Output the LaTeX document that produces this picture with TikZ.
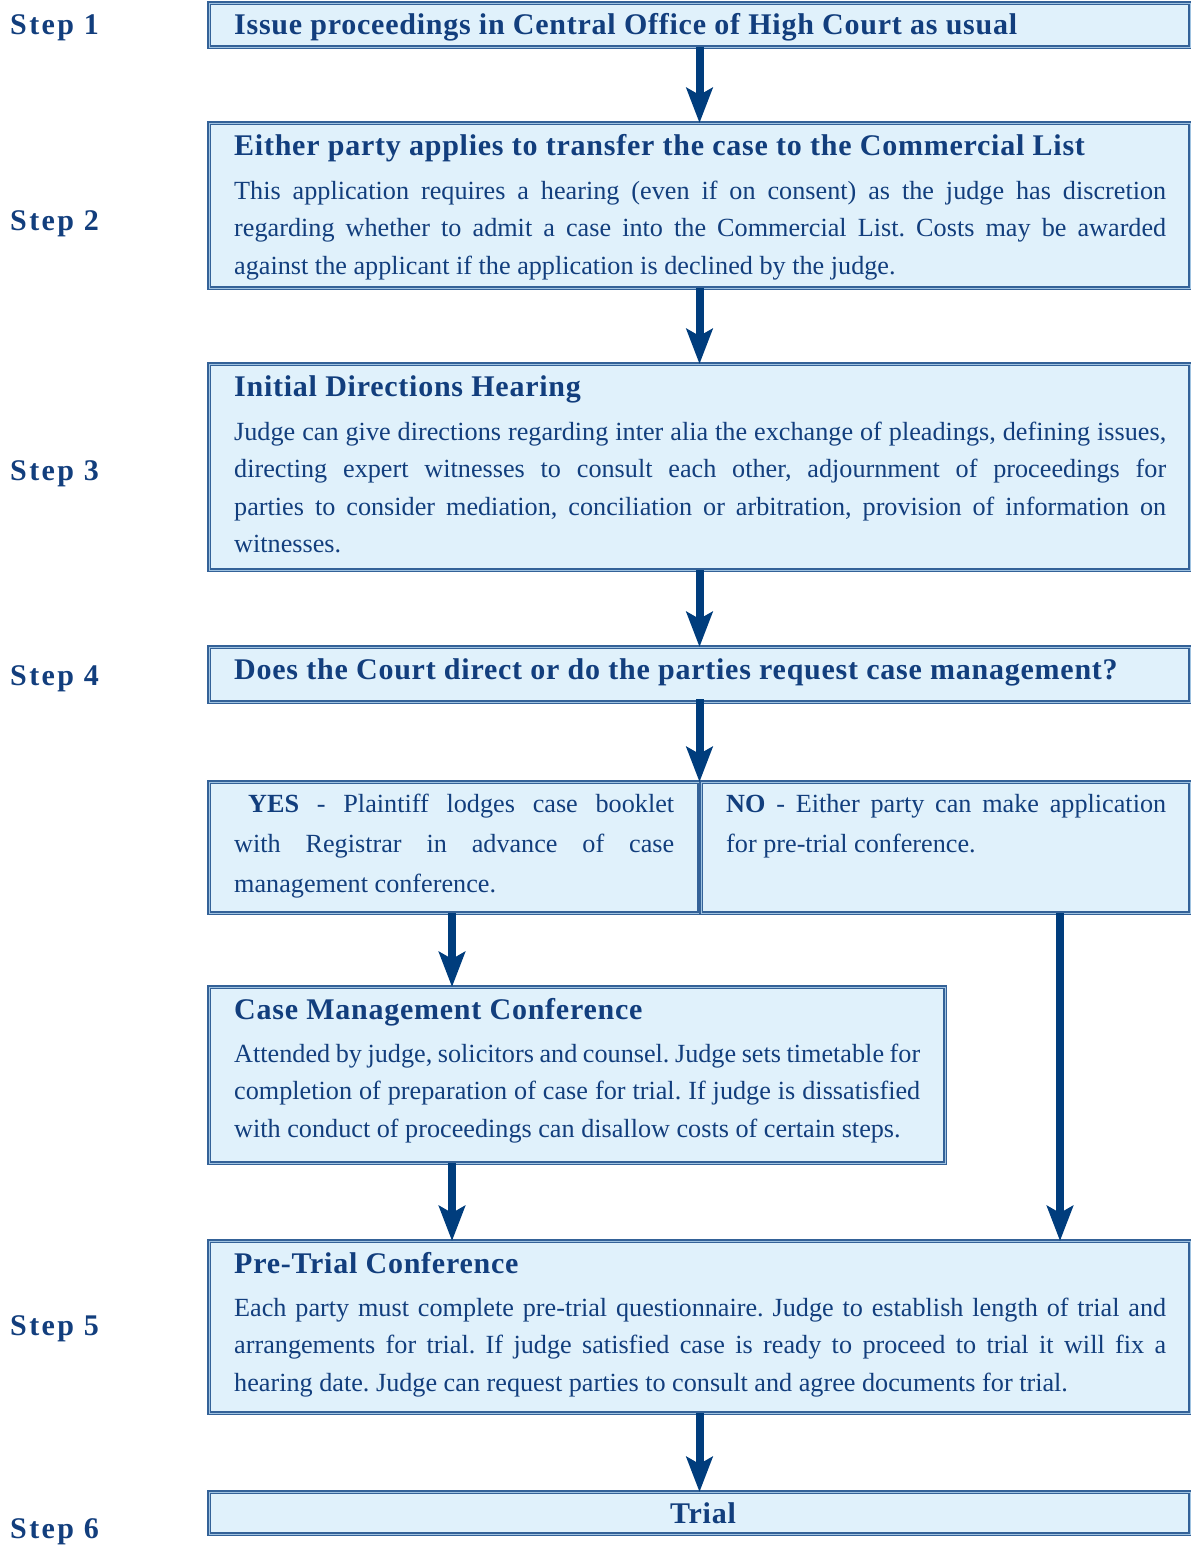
\documentclass[tikz,border=0pt]{standalone}
\usepackage{fontspec}
\setmainfont{Liberation Serif}
\usetikzlibrary{arrows.meta}
\definecolor{tb}{RGB}{18,62,125}
\definecolor{ab}{RGB}{0,61,125}
\definecolor{fb}{RGB}{224,241,251}
\definecolor{bb}{RGB}{52,98,152}
\definecolor{bl}{RGB}{160,195,225}
\frenchspacing
\begin{document}
\frenchspacing
\begin{tikzpicture}[x=1pt,y=-1pt,
  box/.style={draw=bb, double=bl, double distance=1pt, line width=1.2pt, fill=fb, inner sep=0pt, outer sep=0pt, anchor=north west},
  heading/.style={font=\fontsize{30}{34}\selectfont\bfseries\addfontfeature{LetterSpace=2.5}, text=tb, inner sep=0pt, anchor=base west},
  steplabel/.style={font=\fontsize{30}{34}\selectfont\bfseries\addfontfeature{LetterSpace=8}, text=tb, inner sep=0pt, anchor=base west},
  body/.style={font=\fontsize{26.2}{37.5}\selectfont\frenchspacing, text=tb, inner sep=0pt, anchor=north west, align=justify},
  flow/.style={draw=ab, line width=8pt, -{Stealth[length=35pt 0 0, width=26pt 0 0, inset=7pt 0 0]}}]
\useasboundingbox (0,0) rectangle (1191,1548);
% step labels
\node[steplabel] (s1) at (10,34) {Step 1};
\node[steplabel] (s2) at (10,230) {Step 2};
\node[steplabel] (s3) at (10,480) {Step 3};
\node[steplabel] (s4) at (10,685) {Step 4};
\node[steplabel] (s5) at (10,1335) {Step 5};
\node[steplabel] (s6) at (10,1538) {Step 6};
% boxes
\node[box, minimum width=981pt, minimum height=44pt] (b1) at (209,3) {};
\node[box, minimum width=981pt, minimum height=165pt] (b2) at (209,123) {};
\node[box, minimum width=981pt, minimum height=206pt] (b3) at (209,364) {};
\node[box, minimum width=981pt, minimum height=55pt] (b4) at (209,647) {};
\node[box, minimum width=490pt, minimum height=131pt] (yes) at (209,782) {};
\node[box, minimum width=489pt, minimum height=131pt] (no) at (701,782) {};
\node[box, minimum width=736pt, minimum height=176pt] (cmc) at (209,987) {};
\node[box, minimum width=981pt, minimum height=172pt] (pt) at (209,1241) {};
\node[box, minimum width=981pt, minimum height=42pt] (tr) at (209,1492) {};
% texts
\node[heading] (t1) at (234,34) {Issue proceedings in Central Office of High Court as usual};
\node[heading] (t2) at (234,155) {Either party applies to transfer the case to the Commercial List};
\node[body, text width=932pt] (p2) at (234,173) {\strut This application requires a hearing (even if on consent) as the judge has discretion\linebreak regarding whether to admit a case into the Commercial List. Costs may be awarded\linebreak against the applicant if the application is declined by the judge.};
\node[heading] (t3) at (234,396) {Initial Directions Hearing};
\node[body, text width=932pt] (p3) at (234,414) {\strut Judge can give directions regarding inter alia the exchange of pleadings, defining issues,\linebreak directing expert witnesses to consult each other, adjournment of proceedings for\linebreak parties to consider mediation, conciliation or arbitration, provision of information on\linebreak witnesses.};
\node[heading] (t4) at (234,679) {Does the Court direct or do the parties request case management?};
\node[body, text width=440pt, font=\fontsize{26.2}{40}\selectfont] (py) at (234,784) {\strut\hspace*{14pt}\textbf{YES} - Plaintiff lodges case booklet\linebreak with Registrar in advance of case\linebreak management conference.};
\node[body, text width=440pt, font=\fontsize{26.2}{40}\selectfont] (pn) at (726,784) {\strut\textbf{NO} - Either party can make application\linebreak for pre-trial conference.};
\node[heading] (tc) at (234,1019) {Case Management Conference};
\node[body, text width=686pt] (pc) at (234,1036) {\strut Attended by judge, solicitors and counsel. Judge sets timetable for\linebreak completion of preparation of case for trial. If judge is dissatisfied\linebreak with conduct of proceedings can disallow costs of certain steps.};
\node[heading] (tp) at (234,1273) {Pre-Trial Conference};
\node[body, text width=932pt] (pp) at (234,1290) {\strut Each party must complete pre-trial questionnaire. Judge to establish length of trial and\linebreak arrangements for trial. If judge satisfied case is ready to proceed to trial it will fix a\linebreak hearing date. Judge can request parties to consult and agree documents for trial.};
\node[heading, anchor=base] (tt) at (703,1523) {Trial};
% arrows
\coordinate (xl) at (452,0);
\coordinate (xr) at (1060,0);
\draw[flow] (b1.south) -- (b2.north);
\draw[flow] (b2.south) -- (b3.north);
\draw[flow] (b3.south) -- (b4.north);
\draw[flow] ([yshift=3pt]b4.south) -- (b4.south |- yes.north);
\draw[flow] (yes.south -| xl) -- (xl |- cmc.north);
\draw[flow] (cmc.south -| xl) -- (xl |- pt.north);
\draw[flow] (no.south -| xr) -- (xr |- pt.north);
\draw[flow] (pt.south) -- (tr.north);
\end{tikzpicture}
\end{document}
